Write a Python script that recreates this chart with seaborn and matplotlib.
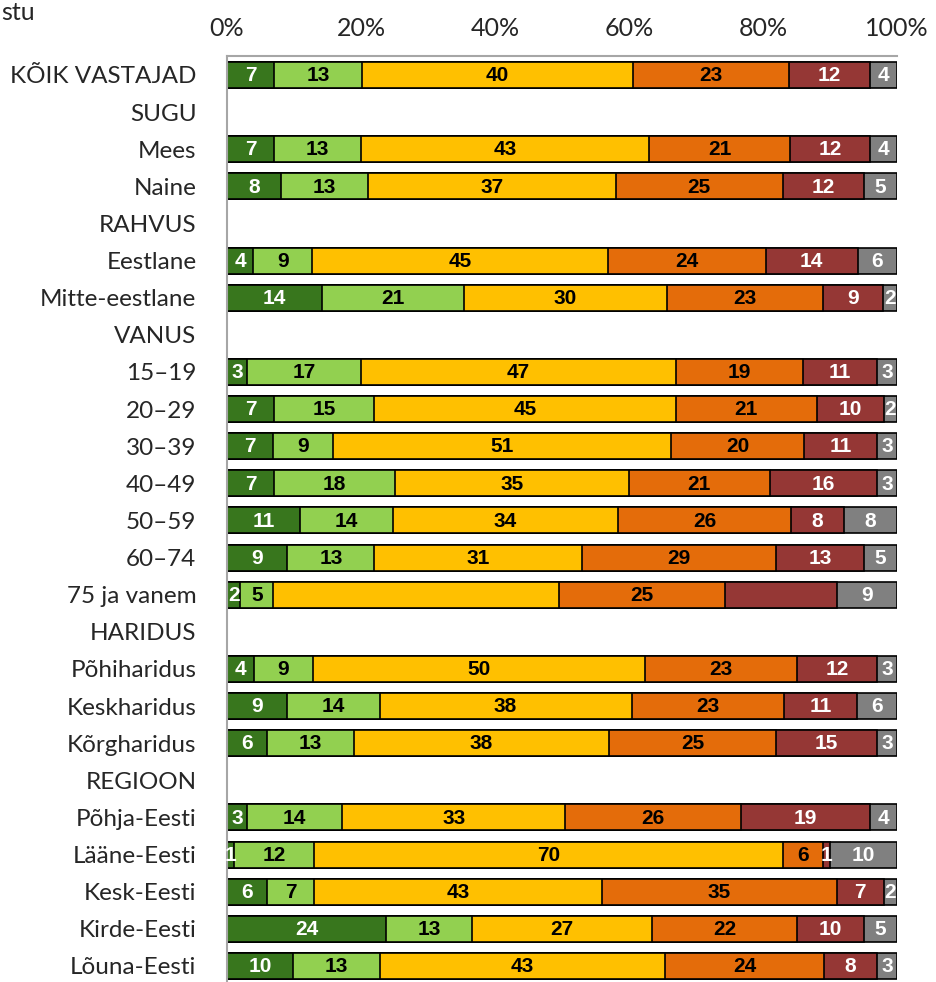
import numpy as np
import pandas as pd
import matplotlib.pyplot as plt
import seaborn as sns

# Ridade nimed (pealkirjad ilma ribadeta)
rows = ['KÕIK VASTAJAD', 'SUGU', 'Mees', 'Naine', 'RAHVUS', 'Eestlane', 'Mitte-eestlane',
        'VANUS', '15–19', '20–29', '30–39', '40–49', '50–59', '60–74', '75 ja vanem',
        'HARIDUS', 'Põhiharidus', 'Keskharidus', 'Kõrgharidus',
        'REGIOON', 'Põhja-Eesti', 'Lääne-Eesti', 'Kesk-Eesti', 'Kirde-Eesti', 'Lõuna-Eesti']

nan = np.nan
v1 = [7, nan, 7, 8, nan, 4, 14, nan, 3, 7, 7, 7, 11, 9, 2, nan, 4, 9, 6, nan, 3, 1, 6, 24, 10]
v2 = [13, nan, 13, 13, nan, 9, 21, nan, 17, 15, 9, 18, 14, 13, 5, nan, 9, 14, 13, nan, 14, 12, 7, 13, 13]
v3 = [40, nan, 43, 37, nan, 45, 30, nan, 47, 45, 51, 35, 34, 31, 43, nan, 50, 38, 38, nan, 33, 70, 43, 27, 43]
v4 = [23, nan, 21, 25, nan, 24, 23, nan, 19, 21, 20, 21, 26, 29, 25, nan, 23, 23, 25, nan, 26, 6, 35, 22, 24]
v5 = [12, nan, 12, 12, nan, 14, 9, nan, 11, 10, 11, 16, 8, 13, 17, nan, 12, 11, 15, nan, 19, 1, 7, 10, 8]
v6 = [4, nan, 4, 5, nan, 6, 2, nan, 3, 2, 3, 3, 8, 5, 9, nan, 3, 6, 3, nan, 4, 10, 2, 5, 3]

series = [v1, v2, v3, v4, v5, v6]
colors = ['#38761D', '#92D050', '#FFC000', '#E46C0A', '#953735', '#808080']
text_colors = ['white', 'black', 'black', 'black', 'white', 'white']
# sildid, mida originaalis ei näidata
hidden = [('75 ja vanem', 2), ('75 ja vanem', 4)]

df = pd.DataFrame({f's{i+1}': s for i, s in enumerate(series)}, index=rows)
total = df.sum(axis=1, min_count=1)
pct = df.div(total, axis=0) * 100
cum = pct.cumsum(axis=1)
cum['rida'] = rows

sns.set_style('white')
plt.rcParams['font.family'] = ['Lato', 'DejaVu Sans']

fig = plt.figure(figsize=(9.36, 9.82), dpi=100)
ax = fig.add_axes([227 / 936, -0.0026, 670 / 936, 0.9452])

# kumulatiivsed ribad, suurimast väiksemani
for i in range(5, -1, -1):
    sns.barplot(data=cum, x=f's{i+1}', y='rida', order=rows, color=colors[i],
                saturation=1, width=0.7, edgecolor='black', linewidth=1.2, ax=ax)

num_font = ['Liberation Sans', 'DejaVu Sans']
for r, name in enumerate(rows):
    if np.isnan(total[name]):
        continue
    start = 0
    for i in range(6):
        w = pct.iloc[r, i]
        if (name, i) not in hidden:
            ax.text(start + w / 2, r + 0.02, f'{int(df.iloc[r, i])}', ha='center', va='center',
                    color=text_colors[i], fontsize=15, fontweight='bold', family=num_font)
        start += w

ax.set_xlim(0, 100)
ax.set_ylim(len(rows) - 0.5, -0.5)
ax.set_xlabel('')
ax.set_ylabel('')
ax.xaxis.tick_top()
ax.set_xticks(range(0, 101, 20))
ax.set_xticklabels([f'{t}%' for t in range(0, 101, 20)], fontsize=18)
ax.tick_params(axis='x', length=6, width=1.5, color='#A6A6A6', pad=6, direction='out')
ax.tick_params(axis='y', length=0, pad=22, labelsize=17.5)
for lbl in ax.get_yticklabels():
    lbl.set_horizontalalignment('right')

sns.despine(ax=ax, top=False, bottom=True, right=True)
ax.spines['top'].set_color('#A6A6A6')
ax.spines['top'].set_linewidth(1.5)
ax.spines['left'].set_color('#A6A6A6')
ax.spines['left'].set_linewidth(1.5)

fig.text(0.001, 0.999, 'stu', ha='left', va='top', fontsize=18)

fig.savefig('out.png', dpi=100)
